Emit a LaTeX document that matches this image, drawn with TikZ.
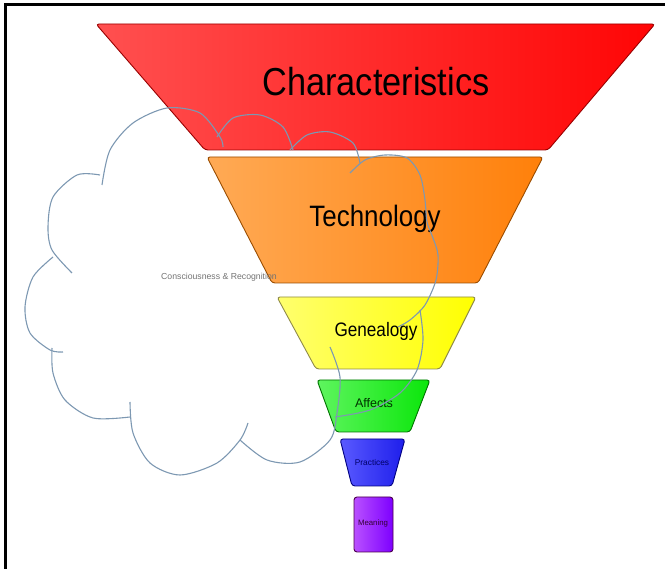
\documentclass[tikz,border=0pt]{standalone}
\usepackage{fontspec}
\setmainfont{Liberation Sans}
\newfontfamily\narrowfont[FakeStretch=0.88]{Liberation Sans}
\usepackage{tikz}
\usetikzlibrary{positioning}
\definecolor{cloudblue}{RGB}{125,152,178}
\definecolor{redleft}{RGB}{255,80,80}
\definecolor{redright}{RGB}{255,5,5}
\definecolor{orangeleft}{RGB}{255,170,85}
\definecolor{orangeright}{RGB}{255,128,10}
\definecolor{yellowleft}{RGB}{255,255,110}
\definecolor{yellowright}{RGB}{255,255,0}
\definecolor{greenleft}{RGB}{95,245,95}
\definecolor{greenright}{RGB}{10,230,10}
\definecolor{blueleft}{RGB}{90,90,255}
\definecolor{blueright}{RGB}{30,30,235}
\definecolor{purpleleft}{RGB}{185,80,255}
\definecolor{purpleright}{RGB}{125,0,255}

\begin{document}
\begin{tikzpicture}[x=1pt,y=-1pt,
    layer/.style={rounded corners=3pt, line width=0.9pt},
    cloudline/.style={draw=cloudblue, line width=1.1pt},
    lbl/.style={anchor=base, inner sep=0pt}]
    \useasboundingbox (0,0) rectangle (665,569);
    % frame
    \draw[line width=3pt] (665,5) -- (5,5) -- (5,569);
    % funnel
    \draw[layer, draw=red!60!black, left color=redleft, right color=redright]
        (96,24) -- (655,24) -- (548,150) -- (205,150) -- cycle;
    \draw[layer, draw=orange!60!black, left color=orangeleft, right color=orangeright]
        (207,157) -- (543,157) -- (478,283) -- (272,283) -- cycle;
    \draw[layer, draw=yellow!50!black, left color=yellowleft, right color=yellowright]
        (277,297) -- (476,297) -- (440,369) -- (316,369) -- cycle;
    \draw[layer, draw=green!45!black, left color=greenleft, right color=greenright]
        (317,380) -- (430,380) -- (410,432) -- (336,432) -- cycle;
    \draw[layer, draw=blue!50!black, left color=blueleft, right color=blueright]
        (340,439) -- (405,439) -- (392,486) -- (352,486) -- cycle;
    \draw[layer, draw=violet!60!black, left color=purpleleft, right color=purpleright]
        (354,497) rectangle (393,552);
    \node[lbl, font={\narrowfont\fontsize{39}{40}\selectfont}] (characteristics) at (376,96) {Characteristics};
    \node[lbl, font={\narrowfont\fontsize{29.5}{30}\selectfont}] (technology) at (375,227) {Technology};
    \node[lbl, font={\narrowfont\fontsize{19.5}{20}\selectfont}] (genealogy) at (376,337) {Genealogy};
    \node[lbl, font={\fontsize{12.5}{13}\selectfont}, text=green!20!black] (affects) at (374,408) {Affects};
    \node[lbl, font={\fontsize{8.3}{9}\selectfont}, text=blue!40!black] (practices) at (372,466) {Practices};
    \node[lbl, font={\fontsize{7.8}{8}\selectfont}, text=violet!40!black] (meaning) at (373,526) {Meaning};
    % cloud
    \draw[cloudline] plot[smooth] coordinates {(102,185) (110,150) (133,123) (167,108) (200,113) (220,137) (223,147)};
    \draw[cloudline] plot[smooth] coordinates {(217,137) (233,118) (260,115) (283,127) (293,150)};
    \draw[cloudline] plot[smooth] coordinates {(290,150) (307,135) (330,132) (353,143) (360,163)};
    \draw[cloudline] plot[smooth] coordinates {(350,173) (365,160) (385,155) (407,158) (420,175) (425,200)
        (427,222) (433,238) (438,255) (436,280) (425,305) (410,320) (398,327)};
    \draw[cloudline] plot[smooth] coordinates {(420,310) (423,340) (417,370) (400,393) (370,410) (335,417)};
    \draw[cloudline] plot[smooth] coordinates {(330,347) (340,377) (337,413) (330,440) (300,462) (267,460) (240,440)};
    \draw[cloudline] plot[smooth] coordinates {(248,423) (240,440) (217,463) (180,475) (150,463) (133,433) (130,402)};
    \draw[cloudline] plot[smooth] coordinates {(130,417) (93,418) (65,400) (53,373) (52,348)};
    \draw[cloudline] plot[smooth] coordinates {(63,352) (50,350) (30,333) (25,307) (33,277) (53,257)};
    \draw[cloudline] plot[smooth] coordinates {(72,273) (52,250) (48,227) (53,197) (77,175) (100,175)};
    \node[lbl, font={\fontsize{8.7}{9}\selectfont}, text=black!55] (consciousness) at (219,280) {Consciousness \& Recognition};
\end{tikzpicture}
\end{document}
